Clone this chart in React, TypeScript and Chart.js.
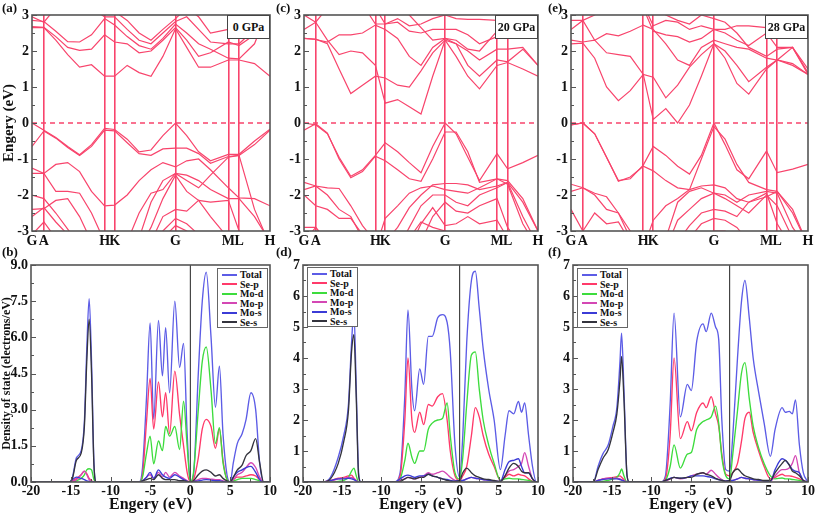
import React, { useEffect, useRef } from "react";
import { Chart, registerables } from "chart.js";
Chart.register(...registerables);

const SERIF = "'Liberation Serif', 'Times New Roman', 'DejaVu Serif', serif";
const BAND_COLOR = "#f8446c";
const FRAME_COLOR = "#555555";

// ---- band structure k-path ----
const K_TICKS = [0, 0.05, 0.305, 0.347, 0.603, 0.825, 0.87, 1];
const K_LABELS = ["G", "A", "H", "K", "G", "M", "L", "H"];
const K_GRID = [0, 0.05, 0.1, 0.15, 0.2, 0.25, 0.305, 0.347, 0.4, 0.45, 0.5, 0.55, 0.603, 0.65, 0.7, 0.75, 0.825, 0.87, 0.935, 1.0];

const BANDS_0GPA: number[][] = [
  [2.65, 2.65, 2.3, 1.9, 1.55, 1.62, 1.3, 1.3, 1.6, 1.4, 1.3, 1.85, 2.62, 2.1, 1.55, 1.55, 1.75, 1.75, 1.65, 1.3],
  [2.68, 2.66, 2.4, 2.1, 2.02, 2.05, 2.45, 2.25, 2.2, 1.95, 2.0, 2.3, 2.65, 2.3, 1.85, 1.95, 2.25, 2.15, 2.45, 3.2],
  [2.85, 2.82, 2.55, 2.26, 2.25, 2.45, 2.9, 2.72, 2.4, 2.15, 2.05, 2.35, 2.75, 2.5, 2.2, 2.05, 1.8, 1.78, 2.2, 3.3],
  [2.95, 2.8, 3.2, 3.4, 3.4, 3.2, 2.95, 2.95, 2.6, 2.3, 2.2, 2.5, 2.82, 2.95, 2.6, 2.25, 2.2, 2.2, 2.6, 3.3],
  [3.3, 3.3, 3.5, 3.5, 3.5, 3.4, 3.2, 3.1, 2.85, 2.5, 2.3, 2.6, 2.9, 3.2, 2.95, 2.5, 2.6, 2.8, 3.2, 3.5],
  [0, -0.2, -0.4, -0.65, -0.88, -0.6, -0.15, -0.18, -0.45, -0.8, -0.75, -0.35, 0, -0.35, -0.8, -1.05, -0.87, -0.87, -0.5, -0.17],
  [-0.65, -0.22, -0.42, -0.68, -0.9, -0.65, -0.2, -0.22, -0.55, -0.85, -0.9, -0.72, -0.7, -0.7, -0.85, -1.12, -0.93, -0.9, -0.6, -0.2],
  [-1.4, -1.4, -1.15, -1.1, -1.35, -1.9, -2.3, -2.28, -2.0, -1.6, -1.3, -1.1, -1.22, -1.05, -1.0, -1.3, -1.8, -2.08, -2.1, -2.3],
  [-1.25, -1.4, -1.9, -1.9, -1.95, -2.5, -3.3, -3.3, -3.3, -2.5, -1.95, -1.85, -1.4, -1.45, -1.6, -1.85, -2.1, -2.1, -2.6, -3.3],
  [-2.4, -2.38, -2.15, -2.1, -2.6, -3.3, -3.5, -3.5, -3.5, -3.2, -2.2, -1.6, -1.4, -1.6, -1.8, -1.45, -0.95, -0.9, -2.4, -3.4],
  [-2.6, -2.35, -2.75, -3.1, -3.5, -3.5, -3.5, -3.5, -3.5, -3.5, -2.9, -2.1, -1.45, -1.9, -2.15, -2.2, -2.15, -3.0, -3.5, -3.5],
  [-2.0, -2.1, -2.5, -2.95, -3.4, -3.5, -3.5, -3.5, -3.5, -3.5, -3.3, -2.6, -2.4, -2.45, -2.15, -2.6, -3.2, -3.5, -3.5, -3.5],
  [-3.1, -2.75, -3.2, -3.5, -3.5, -3.5, -3.5, -3.5, -3.5, -3.5, -3.5, -3.0, -2.65, -2.8, -3.1, -3.5, -3.5, -3.5, -3.5, -3.5],
  [-3.4, -3.4, -3.5, -3.5, -3.5, -3.5, -3.5, -3.5, -3.5, -3.5, -3.5, -3.2, -2.85, -3.0, -3.3, -3.5, -3.5, -3.5, -3.5, -3.5],
];

const BANDS_20GPA: number[][] = [
  [2.6, 2.8, 2.3, 1.9, 2.0, 1.95, 1.6, 0.55, 0.65, 0.45, 0.25, 1.3, 2.3, 2.2, 1.6, 1.3, 1.75, 1.7, 2.05, 1.6],
  [2.35, 2.33, 2.2, 1.5, 0.82, 1.05, 1.3, 1.25, 1.05, 1.0, 1.45, 1.95, 2.3, 1.85, 1.3, 0.95, 1.6, 1.68, 1.5, 1.3],
  [2.35, 2.32, 2.25, 2.45, 2.45, 2.5, 2.72, 2.6, 2.35, 1.85, 1.6, 2.1, 2.35, 2.2, 2.0, 1.75, 2.05, 2.05, 2.1, 1.6],
  [3.0, 2.8, 3.2, 3.4, 3.4, 3.3, 2.75, 2.75, 2.8, 2.55, 2.5, 2.6, 2.6, 2.6, 2.45, 2.2, 2.4, 2.5, 3.0, 3.4],
  [3.3, 3.3, 3.4, 3.5, 3.5, 3.4, 3.2, 2.75, 2.9, 2.7, 2.75, 2.9, 3.0, 2.9, 2.88, 2.88, 2.85, 3.2, 3.5, 3.5],
  [3.5, 3.5, 3.5, 3.5, 3.5, 3.5, 3.5, 3.3, 3.2, 3.0, 2.65, 2.3, 2.35, 2.3, 2.05, 2.0, 2.55, 2.9, 3.4, 3.5],
  [0, -0.05, -0.3, -0.95, -1.48, -1.3, -0.9, -0.55, -0.8, -1.1, -1.38, -0.65, 0, -0.3, -0.95, -1.6, -0.85, -1.27, -1.1, -0.9],
  [-0.2, -0.02, -0.28, -1.0, -1.52, -1.35, -0.92, -1.05, -1.3, -1.55, -1.62, -1.0, -0.25, -0.25, -0.8, -1.65, -1.55, -1.6, -2.1, -3.0],
  [-1.65, -1.75, -1.8, -1.82, -2.3, -2.85, -3.3, -3.3, -2.9, -2.35, -2.0, -1.72, -1.68, -1.68, -1.72, -1.85, -1.75, -1.65, -2.6, -3.4],
  [-1.85, -1.75, -2.0, -2.4, -2.6, -3.2, -3.5, -2.65, -2.3, -1.95, -1.8, -1.75, -1.85, -1.9, -1.95, -1.8, -1.55, -1.7, -2.8, -3.5],
  [-2.0, -2.3, -2.4, -2.65, -2.65, -3.1, -3.5, -3.5, -3.5, -2.9, -2.3, -2.0, -2.0, -2.2, -2.3, -2.0, -1.8, -1.65, -2.2, -3.0],
  [-2.9, -2.9, -3.3, -3.5, -3.5, -3.5, -3.5, -3.5, -3.5, -3.5, -3.3, -2.6, -2.2, -2.45, -2.5, -2.3, -2.1, -2.9, -3.5, -3.5],
  [-3.3, -2.9, -3.3, -3.5, -3.5, -3.5, -3.5, -3.5, -3.5, -3.5, -2.8, -2.35, -2.85, -2.8, -2.6, -2.8, -2.7, -3.2, -3.5, -3.5],
  [-3.5, -3.5, -3.5, -3.5, -3.5, -3.5, -3.5, -3.5, -3.5, -3.2, -2.75, -2.9, -3.0, -3.1, -3.3, -3.5, -3.2, -3.5, -3.5, -3.5],
];

const BANDS_28GPA: number[][] = [
  [2.3, 2.25, 2.3, 1.95, 1.9, 1.85, 1.35, 0.1, 0.4, 0.0, 0.5, 1.3, 2.2, 1.8, 1.1, 0.8, 1.5, 1.75, 1.6, 1.35],
  [2.2, 2.22, 1.8, 1.0, 0.62, 0.9, 1.35, 1.27, 0.7, 1.05, 1.55, 1.9, 2.2, 2.0, 1.6, 1.15, 1.55, 1.75, 1.65, 1.35],
  [2.6, 2.85, 2.3, 2.48, 2.42, 2.55, 2.72, 2.6, 2.2, 1.75, 1.6, 2.1, 2.3, 2.2, 2.1, 2.05, 1.8, 1.75, 2.1, 1.35],
  [2.85, 2.85, 3.0, 3.3, 3.4, 3.3, 3.2, 2.55, 2.45, 2.4, 2.25, 2.35, 2.6, 2.5, 2.3, 2.15, 2.5, 2.1, 2.1, 1.4],
  [3.3, 3.3, 3.4, 3.5, 3.5, 3.5, 3.3, 2.7, 2.85, 2.8, 2.6, 2.7, 2.6, 2.6, 2.7, 2.7, 2.65, 2.4, 3.0, 3.4],
  [3.5, 3.5, 3.5, 3.5, 3.5, 3.5, 3.5, 3.2, 3.0, 2.85, 2.75, 3.0, 2.9, 2.8, 2.5, 2.1, 1.85, 2.05, 2.1, 1.5],
  [-0.05, 0, -0.3, -0.95, -1.6, -1.55, -1.17, -0.65, -0.9, -1.2, -1.42, -0.9, 0, -0.6, -1.3, -1.55, -0.78, -1.38, -1.28, -1.15],
  [-0.05, 0, -0.3, -0.95, -1.62, -1.5, -1.2, -1.33, -1.6, -1.8, -1.85, -1.0, -0.1, -0.45, -1.15, -1.65, -1.85, -1.9, -2.5, -3.4],
  [-1.7, -1.8, -1.95, -2.05, -2.5, -3.0, -3.5, -2.7, -2.3, -2.1, -1.85, -1.75, -1.72, -1.8, -2.1, -2.2, -2.05, -1.9, -2.4, -3.4],
  [-1.9, -1.8, -2.0, -2.4, -2.5, -3.2, -3.5, -3.5, -3.2, -2.2, -1.9, -1.8, -1.95, -2.0, -2.2, -2.0, -1.9, -1.95, -2.9, -3.5],
  [-2.4, -3.0, -2.5, -2.8, -2.75, -3.3, -3.5, -3.5, -3.5, -2.7, -2.4, -2.1, -1.95, -2.1, -2.3, -2.5, -2.0, -2.3, -3.2, -3.5],
  [-3.2, -3.0, -3.4, -3.5, -3.5, -3.5, -3.5, -3.5, -3.5, -3.3, -2.85, -2.5, -2.4, -2.45, -2.6, -2.2, -1.95, -2.8, -3.5, -3.5],
  [-3.5, -3.5, -3.5, -3.5, -3.5, -3.5, -3.5, -3.5, -3.5, -3.5, -3.2, -2.8, -2.65, -2.7, -2.9, -3.3, -3.5, -3.5, -3.5, -3.5],
  [-3.5, -3.5, -3.5, -3.5, -3.5, -3.5, -3.5, -3.5, -3.5, -3.5, -3.5, -3.1, -3.0, -3.0, -3.2, -3.5, -3.5, -3.5, -3.5, -3.5],
];

// ---- density of states ----
const PDOS_NAMES = ["Total", "Se-p", "Mo-d", "Mo-p", "Mo-s", "Se-s"];
const PDOS_COLORS = ["#5c5ce6", "#ff3a6a", "#3ddc3d", "#d447b4", "#3b3bd6", "#34343e"];

const E_0GPA = [-20, -15.2, -14.8, -14.3, -13.7, -13.3, -13.0, -12.7, -12.4, -12.1, -11.8, -6.4, -6.0, -5.5, -5.05, -4.6, -4.0, -3.5, -3.1, -2.6, -1.95, -1.35, -0.85, -0.4, 0, 0.4, 1.0, 1.5, 2.0, 2.6, 3.15, 3.65, 4.1, 4.6, 5.0, 5.4, 5.9, 6.5, 7.0, 7.6, 8.2, 8.7, 9.2, 10];
const TOTAL_0GPA = [0, 0, 0.2, 1.0, 1.3, 2.5, 5.5, 7.6, 5.0, 0.8, 0, 0, 0.6, 3.5, 6.6, 2.6, 6.7, 4.4, 6.4, 3.7, 7.5, 4.75, 5.75, 2.0, 0, 0.3, 4.5, 7.5, 8.7, 6.0, 3.1, 4.8, 2.0, 0.3, 0, 0.8, 1.6, 2.0, 2.6, 3.7, 3.0, 0.8, 0, 0];
const SEP_0GPA = [0, 0, 0.05, 0.15, 0.3, 0.45, 0.35, 0.15, 0.05, 0, 0, 0, 0.3, 2.5, 4.3, 2.2, 4.15, 2.7, 3.7, 2.0, 4.6, 2.8, 1.5, 0.4, 0, 0.1, 1.0, 2.2, 2.6, 2.3, 1.4, 2.2, 0.9, 0.1, 0, 0.1, 0.2, 0.2, 0.25, 0.3, 0.25, 0.1, 0, 0];
const MOD_0GPA = [0, 0, 0, 0.05, 0.15, 0.3, 0.5, 0.55, 0.5, 0.1, 0, 0, 0.2, 1.2, 1.9, 0.75, 1.7, 1.3, 2.3, 1.9, 2.3, 1.35, 3.35, 1.5, 0, 0.4, 3.0, 5.0, 5.6, 3.8, 1.6, 2.25, 0.8, 0.1, 0, 0.05, 0.1, 0.15, 0.15, 0.15, 0.1, 0.05, 0, 0];
const MOP_0GPA = [0, 0, 0.02, 0.1, 0.3, 0.45, 0.3, 0.1, 0.03, 0, 0, 0, 0.05, 0.2, 0.3, 0.15, 0.4, 0.2, 0.4, 0.2, 0.4, 0.25, 0.15, 0.05, 0, 0.02, 0.1, 0.15, 0.15, 0.12, 0.1, 0.1, 0.05, 0.02, 0, 0.1, 0.3, 0.4, 0.6, 0.8, 0.6, 0.2, 0, 0];
const MOS_0GPA = [0, 0, 0.1, 0.2, 0.15, 0.1, 0.05, 0.02, 0, 0, 0, 0, 0.05, 0.2, 0.4, 0.15, 0.5, 0.3, 0.2, 0.15, 0.3, 0.2, 0.1, 0.03, 0, 0.02, 0.05, 0.08, 0.1, 0.08, 0.05, 0.05, 0.02, 0, 0, 0.2, 0.4, 0.5, 0.6, 0.65, 0.4, 0.1, 0, 0];
const SES_0GPA = [0, 0, 0.15, 0.9, 1.2, 2.3, 5.0, 6.75, 4.5, 0.7, 0, 0, 0.05, 0.1, 0.15, 0.1, 0.3, 0.15, 0.1, 0.1, 0.1, 0.05, 0.05, 0.02, 0, 0.05, 0.3, 0.45, 0.5, 0.4, 0.25, 0.3, 0.15, 0.05, 0, 0.2, 0.5, 0.7, 1.1, 1.3, 1.8, 0.8, 0, 0];

const E_20GPA = [-20, -17.5, -16.5, -15.5, -14.8, -14.2, -13.8, -13.5, -13.2, -12.9, -12.6, -8.3, -7.6, -7.0, -6.6, -6.1, -5.75, -5.1, -4.6, -4.0, -3.5, -2.8, -2.2, -1.6, -1.2, -0.6, 0, 0.4, 0.9, 1.5, 2.0, 2.5, 3.0, 3.7, 4.4, 5.2, 5.8, 6.3, 6.9, 7.5, 7.9, 8.3, 8.8, 9.3, 9.8, 10];
const TOTAL_20GPA = [0, 0, 0.15, 0.8, 1.5, 2.5, 4.5, 5.5, 3.0, 0.3, 0, 0, 0.3, 2.8, 5.55, 3.0, 2.3, 3.65, 3.15, 4.7, 4.7, 5.3, 5.4, 5.15, 4.2, 1.2, 0.15, 1.5, 4.5, 6.5, 6.8, 5.6, 4.3, 3.0, 2.0, 0.4, 1.5, 2.3, 2.2, 2.6, 2.25, 2.55, 1.5, 0.5, 0, 0];
const SEP_20GPA = [0, 0, 0.05, 0.12, 0.15, 0.2, 0.22, 0.12, 0.05, 0, 0, 0, 0.2, 2.0, 4.0, 2.0, 1.6, 2.25, 1.85, 2.5, 2.45, 2.75, 2.85, 2.0, 1.0, 0.2, 0.05, 0.2, 0.5, 1.5, 2.4, 2.1, 1.5, 0.9, 0.5, 0.05, 0.15, 0.25, 0.2, 0.25, 0.22, 0.2, 0.1, 0.02, 0, 0];
const MOD_20GPA = [0, 0, 0, 0.02, 0.05, 0.15, 0.35, 0.45, 0.2, 0, 0, 0, 0.1, 0.7, 1.25, 0.8, 0.6, 1.0, 1.0, 1.7, 1.9, 2.0, 2.05, 2.55, 1.5, 0.3, 0.1, 0.8, 2.5, 4.1, 4.2, 3.0, 2.0, 1.2, 0.6, 0.05, 0.1, 0.12, 0.1, 0.1, 0.08, 0.07, 0.05, 0.02, 0, 0];
const MOP_20GPA = [0, 0, 0.03, 0.1, 0.12, 0.15, 0.15, 0.1, 0.05, 0, 0, 0, 0.05, 0.1, 0.15, 0.12, 0.1, 0.15, 0.2, 0.3, 0.25, 0.3, 0.35, 0.25, 0.15, 0.05, 0.02, 0.05, 0.1, 0.15, 0.12, 0.1, 0.08, 0.05, 0.03, 0.02, 0.2, 0.35, 0.4, 0.5, 0.6, 0.95, 0.5, 0.1, 0, 0];
const MOS_20GPA = [0, 0, 0.05, 0.1, 0.1, 0.12, 0.1, 0.08, 0.03, 0, 0, 0, 0.1, 0.2, 0.22, 0.18, 0.15, 0.2, 0.2, 0.25, 0.2, 0.15, 0.1, 0.08, 0.05, 0.03, 0.05, 0.05, 0.1, 0.15, 0.12, 0.1, 0.08, 0.05, 0.03, 0.02, 0.4, 0.65, 0.7, 0.75, 0.5, 0.3, 0.3, 0.1, 0, 0];
const SES_20GPA = [0, 0, 0.1, 0.6, 1.3, 2.3, 4.2, 4.75, 2.7, 0.2, 0, 0, 0.02, 0.1, 0.15, 0.12, 0.1, 0.15, 0.15, 0.25, 0.2, 0.15, 0.1, 0.05, 0.03, 0.02, 0.05, 0.3, 0.45, 0.3, 0.2, 0.15, 0.1, 0.08, 0.05, 0.02, 0.2, 0.45, 0.6, 0.5, 0.35, 0.3, 0.3, 0.1, 0, 0];

const E_28GPA = [-20, -17.4, -16.8, -16.2, -15.5, -14.9, -14.4, -14.0, -13.8, -13.5, -13.1, -12.8, -8.8, -8.2, -7.6, -7.1, -6.3, -5.4, -4.9, -4.2, -3.4, -3.0, -2.35, -1.8, -1.4, -1.0, -0.5, 0, 0.4, 1.0, 1.5, 1.95, 2.5, 3.0, 3.7, 4.4, 5.2, 5.8, 6.7, 7.1, 7.6, 8.0, 8.4, 8.9, 9.4, 10];
const TOTAL_28GPA = [0, 0, 0.5, 0.9, 1.2, 1.8, 2.4, 3.9, 4.8, 3.0, 0.2, 0, 0, 0.2, 2.5, 5.45, 2.1, 3.15, 2.95, 4.55, 5.1, 4.85, 5.45, 5.0, 4.6, 2.0, 0.4, 0.35, 1.5, 4.0, 5.8, 6.5, 5.3, 4.0, 2.9, 1.9, 0.83, 1.7, 2.4, 2.25, 2.28, 2.2, 2.65, 1.2, 0.3, 0];
const SEP_28GPA = [0, 0, 0.05, 0.1, 0.12, 0.15, 0.17, 0.2, 0.15, 0.08, 0, 0, 0, 0.1, 1.5, 4.0, 1.4, 1.95, 1.65, 2.25, 2.55, 2.4, 2.75, 2.2, 1.8, 0.9, 0.25, 0.2, 0.3, 0.6, 1.3, 2.05, 2.25, 1.6, 1.0, 0.5, 0.1, 0.15, 0.25, 0.2, 0.2, 0.18, 0.15, 0.1, 0.03, 0];
const MOD_28GPA = [0, 0, 0, 0.02, 0.05, 0.1, 0.15, 0.3, 0.42, 0.2, 0, 0, 0, 0.05, 0.5, 1.2, 0.45, 0.9, 0.95, 1.7, 1.95, 2.0, 2.1, 2.45, 1.9, 0.8, 0.2, 0.1, 0.9, 2.3, 3.5, 3.85, 2.7, 1.8, 1.1, 0.6, 0.2, 0.1, 0.13, 0.1, 0.1, 0.08, 0.07, 0.05, 0.02, 0];
const MOP_28GPA = [0, 0, 0.05, 0.1, 0.12, 0.12, 0.12, 0.1, 0.08, 0.05, 0, 0, 0, 0.03, 0.1, 0.15, 0.1, 0.15, 0.2, 0.25, 0.3, 0.25, 0.38, 0.25, 0.15, 0.08, 0.03, 0.02, 0.05, 0.1, 0.15, 0.12, 0.1, 0.08, 0.05, 0.03, 0.02, 0.2, 0.4, 0.4, 0.45, 0.6, 0.85, 0.3, 0.05, 0];
const MOS_28GPA = [0, 0, 0.05, 0.08, 0.1, 0.1, 0.1, 0.08, 0.06, 0.03, 0, 0, 0, 0.05, 0.12, 0.15, 0.12, 0.15, 0.2, 0.2, 0.2, 0.18, 0.15, 0.1, 0.08, 0.05, 0.03, 0.05, 0.05, 0.1, 0.15, 0.12, 0.1, 0.08, 0.05, 0.03, 0.02, 0.4, 0.75, 0.7, 0.55, 0.4, 0.35, 0.3, 0.05, 0];
const SES_28GPA = [0, 0, 0.4, 0.75, 1.05, 1.6, 2.2, 3.3, 4.05, 2.7, 0.2, 0, 0, 0.05, 0.1, 0.15, 0.12, 0.15, 0.15, 0.25, 0.3, 0.25, 0.2, 0.12, 0.08, 0.05, 0.03, 0.05, 0.3, 0.42, 0.3, 0.2, 0.15, 0.1, 0.08, 0.05, 0.05, 0.3, 0.6, 0.7, 0.55, 0.35, 0.3, 0.2, 0.05, 0];

// ---- helpers ----
const boldFont = (size: number) => ({ family: SERIF, size, weight: "bold" as const });

function framePlugin(yMin: number, yMax: number, yStep: number, xTicks?: { min: number; max: number; step: number }) {
  return {
    id: "frameTicks",
    afterDatasetsDraw(chart: any) {
      const { ctx, chartArea: a } = chart;
      const ys = chart.scales.y;
      const xs = chart.scales.x;
      ctx.save();
      ctx.strokeStyle = FRAME_COLOR;
      ctx.lineWidth = 1;
      ctx.beginPath();
      const nY = Math.round((yMax - yMin) / (yStep / 2));
      for (let i = 0; i <= nY; i++) {
        const v = yMin + (i * yStep) / 2;
        const py = Math.round(ys.getPixelForValue(v)) + 0.5;
        ctx.moveTo(a.left, py);
        ctx.lineTo(a.left + (i % 2 === 0 ? 5 : 3), py);
      }
      if (xTicks) {
        const nX = Math.round((xTicks.max - xTicks.min) / (xTicks.step / 2));
        for (let i = 0; i <= nX; i++) {
          const v = xTicks.min + (i * xTicks.step) / 2;
          const px = Math.round(xs.getPixelForValue(v)) + 0.5;
          ctx.moveTo(px, a.bottom);
          ctx.lineTo(px, a.bottom - (i % 2 === 0 ? 5 : 3));
        }
      }
      ctx.stroke();
      ctx.lineWidth = 1.6;
      ctx.strokeRect(a.left, a.top, a.right - a.left, a.bottom - a.top);
      ctx.restore();
    },
  };
}

function bandConfig(bands: number[][], yAxisWidth: number, padRight: number, showTitle: boolean) {
  const datasets: any[] = bands.map((b) => ({
    data: K_GRID.map((k, i) => ({ x: k, y: b[i] })),
    borderColor: BAND_COLOR,
    borderWidth: 1.2,
    pointRadius: 0,
    tension: 0,
    fill: false,
  }));
  datasets.push({
    data: [{ x: 0, y: 0 }, { x: 1, y: 0 }],
    borderColor: BAND_COLOR,
    borderWidth: 1.3,
    borderDash: [5, 4],
    pointRadius: 0,
    fill: false,
  });
  return {
    type: "line",
    data: { datasets },
    options: {
      responsive: false,
      animation: false,
      devicePixelRatio: 1,
      layout: { padding: { left: 0, top: 15, right: padRight, bottom: 0 } },
      plugins: { legend: { display: false }, tooltip: { enabled: false } },
      scales: {
        x: {
          type: "linear",
          min: 0,
          max: 1,
          afterBuildTicks: (axis: any) => {
            axis.ticks = K_TICKS.map((v) => ({ value: v }));
          },
          afterFit: (s: any) => {
            s.height = 19;
            s.paddingLeft = 0;
            s.paddingRight = 0;
          },
          ticks: {
            autoSkip: false,
            maxRotation: 0,
            minRotation: 0,
            padding: 2,
            color: "#111",
            font: boldFont(14),
            callback: (_v: any, i: number) => K_LABELS[i],
          },
          grid: {
            drawTicks: false,
            lineWidth: 1.6,
            color: (ctx: any) =>
              ctx.index === 0 || ctx.index === K_TICKS.length - 1 ? "rgba(0,0,0,0)" : BAND_COLOR,
          },
          border: { display: false },
        },
        y: {
          type: "linear",
          min: -3,
          max: 3,
          afterFit: (s: any) => {
            s.width = yAxisWidth;
            s.paddingTop = 0;
            s.paddingBottom = 0;
          },
          ticks: { stepSize: 1, padding: 3, color: "#111", font: boldFont(14) },
          grid: { display: false, drawTicks: false },
          border: { display: false },
          title: { display: showTitle, text: "Engery (eV)", padding: 0, color: "#111", font: boldFont(15) },
        },
      },
    },
    plugins: [framePlugin(-3, 3, 1)],
  };
}

function dosConfig(
  energies: number[],
  series: number[][],
  yMax: number,
  yStep: number,
  decimals: number,
  yAxisWidth: number,
  padRight: number,
  showYTitle: boolean
) {
  const datasets: any[] = [];
  datasets.push({
    data: [{ x: 0, y: 0 }, { x: 0, y: yMax }],
    borderColor: "#222",
    borderWidth: 1,
    pointRadius: 0,
    fill: false,
  });
  // draw order: first in array is on top
  const order = [5, 4, 3, 2, 1, 0];
  order.forEach((si) => {
    datasets.push({
      data: energies.map((e, i) => ({ x: e, y: series[si][i] })),
      borderColor: PDOS_COLORS[si],
      borderWidth: 1.35,
      pointRadius: 0,
      cubicInterpolationMode: "monotone",
      fill: false,
    });
  });
  return {
    type: "line",
    data: { datasets },
    options: {
      responsive: false,
      animation: false,
      devicePixelRatio: 1,
      layout: { padding: { left: 0, top: 15, right: padRight, bottom: 0 } },
      plugins: { legend: { display: false }, tooltip: { enabled: false } },
      scales: {
        x: {
          type: "linear",
          min: -20,
          max: 10,
          afterFit: (s: any) => {
            s.height = 32;
            s.paddingLeft = 0;
            s.paddingRight = 0;
          },
          ticks: {
            stepSize: 5,
            autoSkip: false,
            maxRotation: 0,
            minRotation: 0,
            padding: 1,
            color: "#111",
            font: boldFont(14),
            callback: (v: any) => String(v),
          },
          grid: { display: false, drawTicks: false },
          border: { display: false },
          title: { display: true, text: "Engery (eV)", padding: 0, color: "#111", font: boldFont(16) },
        },
        y: {
          type: "linear",
          min: 0,
          max: yMax,
          afterFit: (s: any) => {
            s.width = yAxisWidth;
            s.paddingTop = 0;
            s.paddingBottom = 0;
          },
          ticks: {
            stepSize: yStep,
            padding: 3,
            color: "#111",
            font: boldFont(14),
            callback: (v: any) => Number(v).toFixed(decimals),
          },
          grid: { display: false, drawTicks: false },
          border: { display: false },
          title: {
            display: showYTitle,
            text: "Density of state (electrons/eV)",
            padding: 0,
            color: "#111",
            font: boldFont(12),
          },
        },
      },
    },
    plugins: [framePlugin(0, yMax, yStep, { min: -20, max: 10, step: 5 })],
  };
}

function ChartBox(props: { left: number; top: number; width: number; height: number; config: any }) {
  const ref = useRef<HTMLCanvasElement>(null);
  useEffect(() => {
    const chart = new Chart(ref.current as HTMLCanvasElement, props.config);
    return () => chart.destroy();
  }, []);
  return (
    <canvas
      ref={ref}
      width={props.width}
      height={props.height}
      style={{ position: "absolute", left: props.left, top: props.top, width: props.width, height: props.height }}
    />
  );
}

function PanelLabel(props: { left: number; top: number; text: string }) {
  return (
    <div
      style={{
        position: "absolute",
        left: props.left,
        top: props.top,
        font: `bold 13px ${SERIF}`,
        color: "#111",
        lineHeight: "13px",
        whiteSpace: "nowrap",
      }}
    >
      {props.text}
    </div>
  );
}

function PressureBox(props: { left: number; width: number; text: string }) {
  return (
    <div
      style={{
        position: "absolute",
        left: props.left,
        top: 15,
        width: props.width,
        height: 24,
        boxSizing: "border-box",
        border: "1.5px solid #444",
        background: "#fff",
        font: `bold 12px ${SERIF}`,
        color: "#111",
        display: "flex",
        alignItems: "center",
        justifyContent: "center",
        whiteSpace: "nowrap",
      }}
    >
      {props.text}
    </div>
  );
}

function DosLegend(props: { left: number; top: number }) {
  return (
    <div
      style={{
        position: "absolute",
        left: props.left,
        top: props.top,
        width: 51,
        height: 60,
        boxSizing: "border-box",
        border: "1px solid #666",
        background: "#fff",
        padding: "1px 0 0 4px",
      }}
    >
      {PDOS_NAMES.map((n, i) => (
        <div key={n} style={{ display: "flex", alignItems: "center", height: 9.5 }}>
          <span
            style={{
              display: "inline-block",
              width: 15,
              height: 2,
              background: PDOS_COLORS[i],
              marginRight: 3,
            }}
          />
          <span style={{ font: `bold 10px ${SERIF}`, lineHeight: "9.5px", color: "#111", whiteSpace: "nowrap" }}>{n}</span>
        </div>
      ))}
    </div>
  );
}

export default function App() {
  const dos0 = [TOTAL_0GPA, SEP_0GPA, MOD_0GPA, MOP_0GPA, MOS_0GPA, SES_0GPA];
  const dos20 = [TOTAL_20GPA, SEP_20GPA, MOD_20GPA, MOP_20GPA, MOS_20GPA, SES_20GPA];
  const dos28 = [TOTAL_28GPA, SEP_28GPA, MOD_28GPA, MOP_28GPA, MOS_28GPA, SES_28GPA];
  return (
    <div
      style={{
        position: "absolute",
        left: 0,
        top: 0,
        width: 816,
        height: 514,
        background: "#fff",
        overflow: "hidden",
      }}
    >
      <ChartBox left={0} top={0} width={280} height={250} config={bandConfig(BANDS_0GPA, 32, 10, true)} />
      <ChartBox left={272} top={0} width={280} height={250} config={bandConfig(BANDS_20GPA, 32, 14, false)} />
      <ChartBox left={544} top={0} width={272} height={250} config={bandConfig(BANDS_28GPA, 27, 8, false)} />

      <ChartBox left={0} top={250} width={280} height={264} config={dosConfig(E_0GPA, dos0, 9, 1.5, 1, 31, 10, true)} />
      <ChartBox left={272} top={250} width={280} height={264} config={dosConfig(E_20GPA, dos20, 7, 1, 0, 31, 14, false)} />
      <ChartBox left={544} top={250} width={272} height={264} config={dosConfig(E_28GPA, dos28, 7, 1, 0, 29, 8, false)} />

      <PressureBox left={227} width={43} text="0 GPa" />
      <PressureBox left={495} width={43} text="20 GPa" />
      <PressureBox left={765} width={43} text="28 GPa" />

      <DosLegend left={217} top={268} />
      <DosLegend left={307} top={267} />
      <DosLegend left={577} top={268} />

      <PanelLabel left={2} top={1} text="(a)" />
      <PanelLabel left={2} top={245} text="(b)" />
      <PanelLabel left={276} top={1} text="(c)" />
      <PanelLabel left={276} top={245} text="(d)" />
      <PanelLabel left={548} top={1} text="(e)" />
      <PanelLabel left={548} top={245} text="(f)" />
    </div>
  );
}
